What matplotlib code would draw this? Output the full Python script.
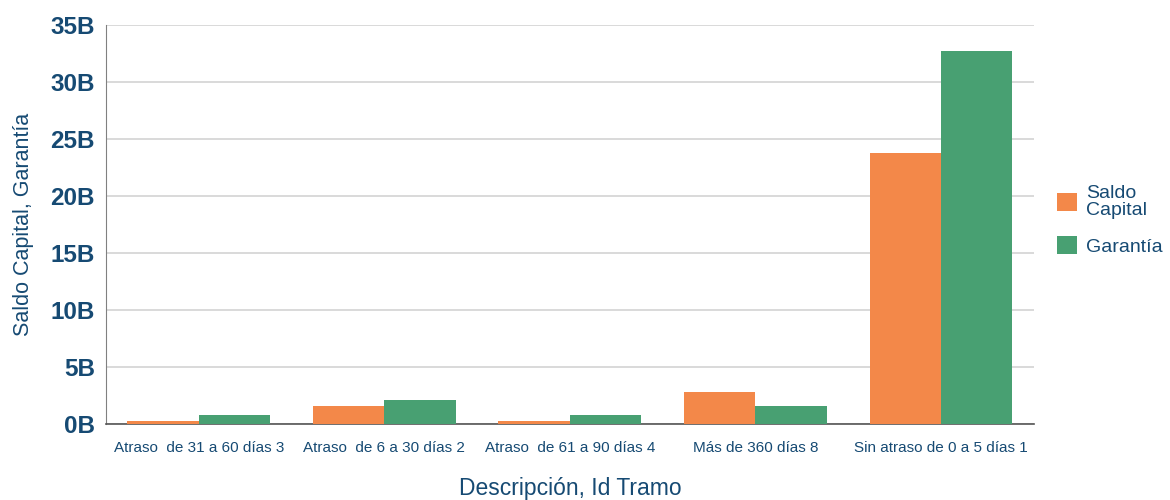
import numpy as np
import matplotlib.pyplot as plt

plt.rcParams['font.family'] = ['Liberation Sans', 'DejaVu Sans']

categorias = ['Atraso  de 31 a 60 días 3', 'Atraso  de 6 a 30 días 2',
              'Atraso  de 61 a 90 días 4', 'Más de 360 días 8',
              'Sin atraso de 0 a 5 días 1']
saldo_capital = [0.25, 1.6, 0.25, 2.83, 23.8]   # miles de millones
garantia = [0.8, 2.1, 0.75, 1.58, 32.75]

azul = '#164a73'
naranja = '#f38849'
verde = '#48a072'

fig = plt.figure(figsize=(11.7, 5), dpi=100)
ax = fig.add_axes([0.0906, 0.152, 0.793, 0.798])

x = np.arange(len(categorias))
w = 0.385
ax.bar(x - w / 2, saldo_capital, w, color=naranja, label='Saldo\nCapital', zorder=3)
ax.bar(x + w / 2, garantia, w, color=verde, label='Garantía', zorder=3)

ax.set_xlim(-0.5, len(categorias) - 0.5)
ax.set_ylim(0, 35)
ax.set_yticks(range(0, 36, 5))
ax.set_yticklabels([f'{v}B' for v in range(0, 36, 5)], fontsize=17.5,
                   fontweight='bold', color=azul)
ax.set_xticks(x)
ax.set_xticklabels(categorias, fontsize=11, color=azul)
ax.tick_params(axis='both', length=0)
ax.tick_params(axis='x', pad=12)
ax.tick_params(axis='y', pad=8)

ax.grid(axis='y', color='#d3d3d3', linewidth=1.2, zorder=0)
for s in ['top', 'right']:
    ax.spines[s].set_visible(False)
ax.spines['left'].set_color('#808080')
ax.spines['bottom'].set_color('#555555')
ax.spines['bottom'].set_linewidth(1.2)

ax.set_ylabel('Saldo Capital, Garantía', fontsize=15.5, color=azul, labelpad=12)
ax.set_xlabel('Descripción, Id Tramo', fontsize=16.5, color=azul, labelpad=16)

leg = ax.legend(loc='center left', bbox_to_anchor=(1.006, 0.51), frameon=False,
                fontsize=14, handlelength=1.05, handleheight=1.05,
                labelspacing=0.9, handletextpad=0.45)
for t in leg.get_texts():
    t.set_color(azul)
    t.set_linespacing(0.95)

fig.savefig('out.png', dpi=100)
